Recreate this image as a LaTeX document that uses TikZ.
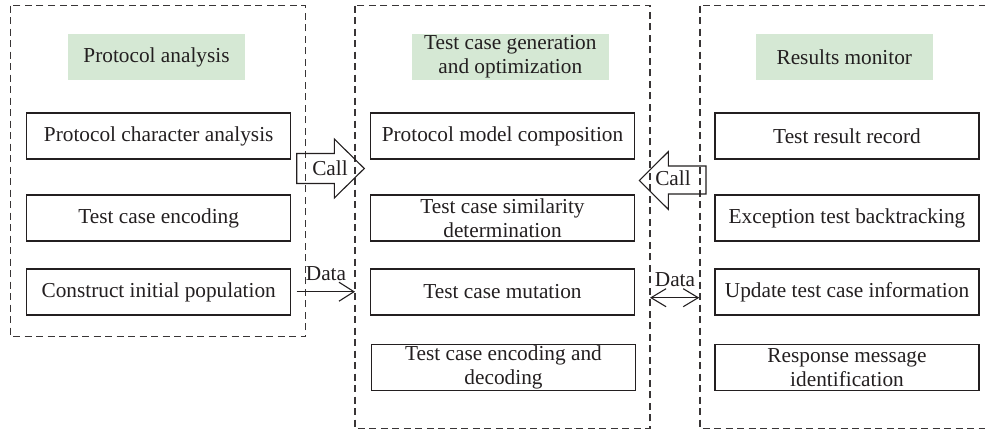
\documentclass[tikz,border=0pt]{standalone}
\usepackage{fontspec}
\setmainfont{Liberation Serif}
\usetikzlibrary{arrows.meta}
\definecolor{hdrgreen}{RGB}{213,232,212}
\definecolor{ink}{RGB}{35,31,32}
\begin{document}
\begin{tikzpicture}[x=1pt,y=-1pt,
  txt/.style={font=\fontsize{21.3}{24}\selectfont, text=ink},
  panel/.style={draw=ink!90, dash pattern=on 7pt off 4.5pt, line width=1.1pt},
  hdr/.style={txt, fill=hdrgreen, minimum height=46pt, inner sep=0pt, align=center},
  stepbox/.style={txt, draw=ink, line width=1.1pt, minimum width=264pt, minimum height=46pt, inner sep=0pt, align=center},
  lbl/.style={txt, inner sep=0pt},
  blockarrow/.style={draw=ink, line width=1.1pt, line join=miter},
  tipr/.style={draw=ink, line width=1.1pt, -{Straight Barb[length=15pt,width=19pt]}},
  tipb/.style={draw=ink, line width=1.1pt, {Straight Barb[length=15pt,width=18pt]}-{Straight Barb[length=15pt,width=18pt]}}
]
\useasboundingbox (0,0) rectangle (985,432);
\fill[white] (0,0) rectangle (985,432);

% panels
\draw[panel] (10.5,5.7) rectangle (305.5,336.7);
\draw[panel] (355,5.7) rectangle (650,428.3);
\draw[panel] (700,5.7) rectangle (995,428.5);

% headers
\node[hdr, minimum width=177pt] (h1) at (156.5,57) {Protocol analysis};
\node[hdr, minimum width=197pt] (h2) at (510.3,57) {Test case generation\\ and optimization};
\node[hdr, minimum width=177pt] (h3) at (844.3,57) {Results monitor};

% left boxes
\node[stepbox] (l1) at (158.7,136) {Protocol character analysis};
\node[stepbox] (l2) at (158.7,218) {Test case encoding};
\node[stepbox] (l3) at (158.7,292) {Construct initial population};

% middle boxes
\node[stepbox] (m1) at (502.5,136) {Protocol model composition};
\node[stepbox] (m2) at (502.5,218) {Test case similarity\\ determination};
\node[stepbox] (m3) at (502.5,292) {Test case mutation};
\node[stepbox] (m4) at (503.5,367.7) {Test case encoding and\\ decoding};

% right boxes
\node[stepbox] (r1) at (847,136) {Test result record};
\node[stepbox] (r2) at (847,218) {Exception test backtracking};
\node[stepbox] (r3) at (847,292) {Update test case information};
\node[stepbox] (r4) at (847,367.7) {Response message\\ identification};

% Call arrows
\draw[blockarrow] (296.7,153.5) -- (334.3,153.5) -- (334.3,139) -- (364.3,168.5)
  -- (334.3,198) -- (334.3,183.5) -- (296.7,183.5) -- cycle;
\node[lbl] (call1) at (330,168) {Call};
\draw[blockarrow] (706,166) -- (668.3,166) -- (668.3,151.7) -- (639.3,180.5)
  -- (668.3,209.3) -- (668.3,194) -- (706,194) -- cycle;
\node[lbl] (call2) at (673,178.5) {Call};

% Data arrows
\coordinate (d1s) at (296.7,291.7);
\coordinate (d1e) at (355,291.7);
\draw[tipr] (d1s) -- (d1e);
\node[lbl] (data1) at (326,274) {Data};
\coordinate (d2s) at (650,297.7);
\coordinate (d2e) at (699.3,297.7);
\draw[tipb] (d2s) -- (d2e);
\node[lbl] (data2) at (675,279.5) {Data};
\end{tikzpicture}
\end{document}
